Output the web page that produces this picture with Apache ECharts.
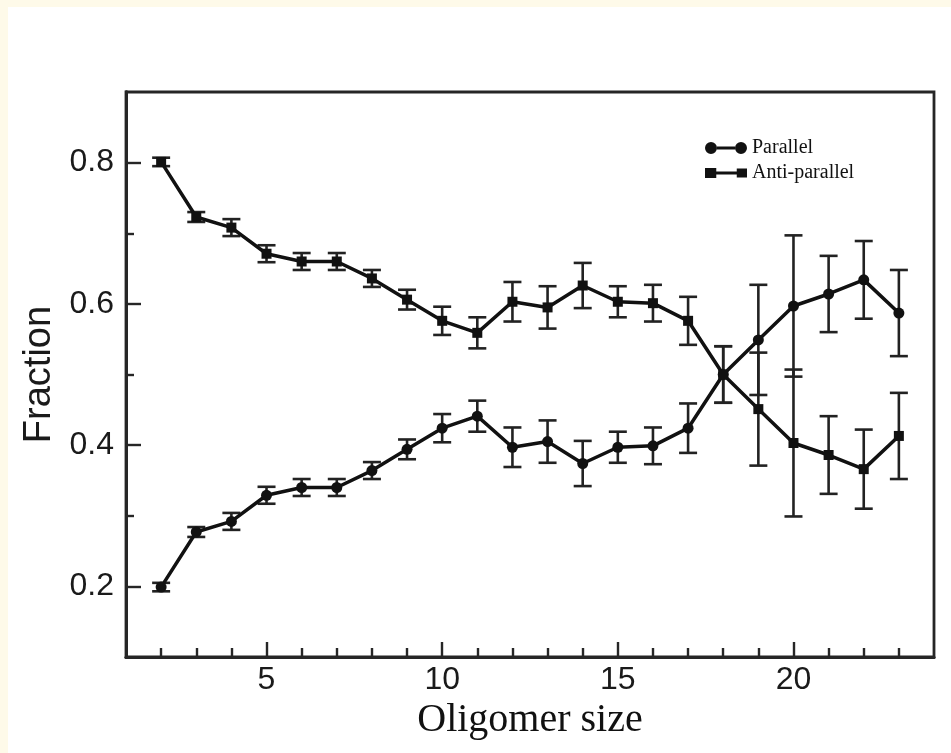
<!DOCTYPE html>
<html>
<head>
<meta charset="utf-8">
<script src="https://cdn.jsdelivr.net/npm/echarts@6/dist/echarts.min.js"></script>
<style>
  html, body { margin: 0; padding: 0; background: #fefae9; width: 951px; height: 753px; overflow: hidden; }
  #chart { position: absolute; left: 8px; top: 7px; width: 943px; height: 746px; background: #ffffff; }
</style>
</head>
<body>
<div id="chart"></div>
<script>
// Oligomer sizes
const sizes = [2, 3, 4, 5, 6, 7, 8, 9, 10, 11, 12, 13, 14, 15, 16, 17, 18, 19, 20, 21, 22, 23];
// Parallel fraction (circles)
const parallel = [0.199, 0.277, 0.292, 0.329, 0.340, 0.340, 0.364, 0.394, 0.424, 0.441, 0.397, 0.405, 0.374, 0.397, 0.399, 0.424, 0.500, 0.549, 0.597, 0.614, 0.634, 0.587];
const parallelErr = [0.006, 0.007, 0.012, 0.012, 0.012, 0.012, 0.012, 0.014, 0.020, 0.022, 0.028, 0.030, 0.032, 0.022, 0.026, 0.035, 0.040, 0.078, 0.100, 0.054, 0.055, 0.061];
// Anti-parallel fraction (squares)
const antiParallel = [0.801, 0.723, 0.708, 0.671, 0.660, 0.660, 0.636, 0.606, 0.576, 0.559, 0.603, 0.595, 0.626, 0.603, 0.601, 0.576, 0.500, 0.451, 0.403, 0.386, 0.366, 0.413];
const antiParallelErr = [0.006, 0.007, 0.012, 0.012, 0.012, 0.012, 0.012, 0.014, 0.020, 0.022, 0.028, 0.030, 0.032, 0.022, 0.026, 0.034, 0.040, 0.080, 0.104, 0.055, 0.056, 0.061];
// Tick values
const xMajorTicks = [5, 10, 15, 20];
const xMinorTicks = [2, 3, 4, 6, 7, 8, 9, 11, 12, 13, 14, 16, 17, 18, 19, 21, 22, 23];
const yMajorTicks = [0.2, 0.4, 0.6, 0.8];
const yMinorTicks = [0.3, 0.5, 0.7];

const ink = '#111111';
const axisInk = '#262626';

function pairs(xs, ys) { return xs.map((x, i) => [x, ys[i]]); }
function errData(xs, ys, es) { return xs.map((x, i) => [x, ys[i] - es[i], ys[i] + es[i]]); }

function renderErr(params, api) {
  const x = api.value(0);
  const lo = api.coord([x, api.value(1)]);
  const hi = api.coord([x, api.value(2)]);
  const half = 9;
  const style = { stroke: '#222222', lineWidth: 2.6 };
  return {
    type: 'group',
    children: [
      { type: 'line', shape: { x1: lo[0], y1: lo[1], x2: hi[0], y2: hi[1] }, style: style },
      { type: 'line', shape: { x1: lo[0] - half, y1: lo[1], x2: lo[0] + half, y2: lo[1] }, style: style },
      { type: 'line', shape: { x1: hi[0] - half, y1: hi[1], x2: hi[0] + half, y2: hi[1] }, style: style }
    ]
  };
}

const chart = echarts.init(document.getElementById('chart'), null, { renderer: 'canvas' });

const circleIcon = 'path://M0,6 A6,6 0 1,1 12,6 A6,6 0 1,1 0,6 Z M12,4.5 L30,4.5 L30,7.5 L12,7.5 Z M30,6 A6,6 0 1,1 42,6 A6,6 0 1,1 30,6 Z';
const squareIcon = 'path://M0,1 L11,1 L11,11 L0,11 Z M11,4.5 L31,4.5 L31,7.5 L11,7.5 Z M31,1.5 L41,1.5 L41,10.5 L31,10.5 Z';

const baseX = {
  type: 'value', min: 1, max: 24,
  axisLine: { show: true, onZero: false, lineStyle: { color: axisInk, width: 2.8 } },
  splitLine: { show: false }
};
const baseY = {
  type: 'value', min: 0.1, max: 0.9,
  axisLine: { show: true, onZero: false, lineStyle: { color: axisInk, width: 2.8 } },
  splitLine: { show: false }
};

chart.setOption({
  animation: false,
  backgroundColor: '#ffffff',
  grid: { left: 118, top: 85, right: 17, bottom: 96, show: true, borderColor: axisInk, borderWidth: 2.8, containLabel: false },
  legend: {
    left: 692, top: 126, orient: 'vertical', itemWidth: 42, itemHeight: 12, itemGap: 5,
    textStyle: { fontFamily: 'Liberation Serif', fontSize: 20, color: '#111' },
    data: [
      { name: 'Parallel', icon: circleIcon },
      { name: 'Anti-parallel', icon: squareIcon }
    ]
  },
  xAxis: [
    Object.assign({}, baseX, {
      position: 'bottom',
      name: 'Oligomer size', nameLocation: 'middle', nameGap: 38,
      nameTextStyle: { fontFamily: 'Liberation Serif', fontSize: 40, color: '#111' },
      axisTick: { show: true, inside: true, length: 15, customValues: xMajorTicks, lineStyle: { color: axisInk, width: 2.4 } },
      axisLabel: { show: true, customValues: xMajorTicks, margin: 7, fontFamily: 'Liberation Sans', fontSize: 32, color: '#1a1a1a' }
    }),
    Object.assign({}, baseX, {
      position: 'bottom',
      axisTick: { show: true, inside: true, length: 9, customValues: xMinorTicks, lineStyle: { color: axisInk, width: 2.4 } },
      axisLabel: { show: false }
    })
  ],
  yAxis: [
    Object.assign({}, baseY, {
      position: 'left',
      name: 'Fraction', nameLocation: 'middle', nameGap: 62, nameRotate: 90,
      nameTextStyle: { fontFamily: 'Liberation Sans', fontSize: 38, color: '#1a1a1a' },
      axisTick: { show: true, inside: true, length: 15, customValues: yMajorTicks, lineStyle: { color: axisInk, width: 2.4 } },
      axisLabel: { show: true, customValues: yMajorTicks, margin: 12, fontFamily: 'Liberation Sans', fontSize: 32, color: '#1a1a1a', formatter: v => v.toFixed(1) }
    }),
    Object.assign({}, baseY, {
      position: 'left',
      axisTick: { show: true, inside: true, length: 8, customValues: yMinorTicks, lineStyle: { color: axisInk, width: 2.4 } },
      axisLabel: { show: false }
    })
  ],
  series: [
    {
      name: 'Parallel', type: 'line', data: pairs(sizes, parallel),
      symbol: 'circle', symbolSize: 11, z: 5,
      lineStyle: { color: ink, width: 3.5 }, itemStyle: { color: ink }
    },
    {
      name: 'Anti-parallel', type: 'line', data: pairs(sizes, antiParallel),
      symbol: 'rect', symbolSize: 10, z: 5,
      lineStyle: { color: ink, width: 3.5 }, itemStyle: { color: ink }
    },
    {
      name: 'Parallel', type: 'custom', renderItem: renderErr, z: 4,
      data: errData(sizes, parallel, parallelErr), encode: { x: 0, y: [1, 2] }
    },
    {
      name: 'Anti-parallel', type: 'custom', renderItem: renderErr, z: 4,
      data: errData(sizes, antiParallel, antiParallelErr), encode: { x: 0, y: [1, 2] }
    }
  ]
});
</script>
</body>
</html>
